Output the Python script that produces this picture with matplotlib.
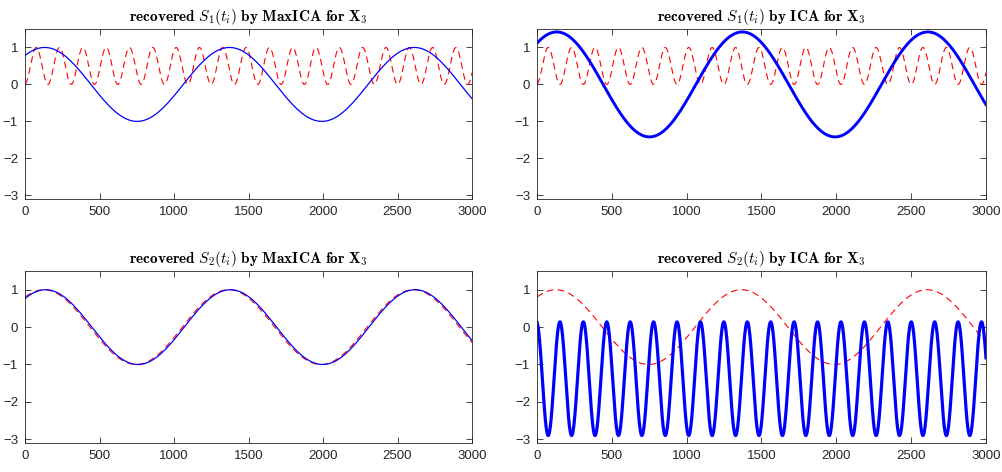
import matplotlib
matplotlib.use('Agg')
import numpy as np
import matplotlib.pyplot as plt

plt.rcParams['mathtext.fontset'] = 'cm'
plt.rcParams['font.family'] = 'Liberation Sans'

# sample index
n_samples = 3000

# slow source S2: cosine
slow_period = 1240
slow_peak = 126
# fast source S1 (0..1 range)
fast_period = 156.5
fast_peak = 75

# amplitudes / offsets / peak shifts of each recovered trace
maxica_s1_amp = 1.0
maxica_s1_peak = 132
ica_s1_amp = 1.42
maxica_s2_amp = 1.0
maxica_s2_peak = 138
ica_s2_offset = -1.38
ica_s2_amp = 1.52

titles = [r'$\mathbf{recovered}\ S_1(t_i)\ \mathbf{by\ MaxICA\ for\ X_3}$',
          r'$\mathbf{recovered}\ S_1(t_i)\ \mathbf{by\ ICA\ for\ X_3}$',
          r'$\mathbf{recovered}\ S_2(t_i)\ \mathbf{by\ MaxICA\ for\ X_3}$',
          r'$\mathbf{recovered}\ S_2(t_i)\ \mathbf{by\ ICA\ for\ X_3}$']

t = np.arange(1, n_samples + 1)
slow = np.cos(2 * np.pi * (t - slow_peak) / slow_period)
fast = 0.5 + 0.5 * np.cos(2 * np.pi * (t - fast_peak) / fast_period)

fig = plt.figure(figsize=(10.02, 4.72), dpi=100)
positions = [[0.0250, 0.5784, 0.4461, 0.3602],
             [0.5359, 0.5784, 0.4481, 0.3602],
             [0.0250, 0.0614, 0.4461, 0.3644],
             [0.5359, 0.0614, 0.4481, 0.3644]]
axes = [fig.add_axes(p) for p in positions]

dash = dict(color='r', linestyle=(0, (6, 4)), linewidth=0.8)

# top: red = true S1, blue = recovered S1
axes[0].plot(t, fast, **dash)
axes[0].plot(t, maxica_s1_amp * np.cos(2 * np.pi * (t - maxica_s1_peak) / slow_period),
             color='b', linewidth=0.9)
axes[1].plot(t, fast, **dash)
axes[1].plot(t, ica_s1_amp * np.cos(2 * np.pi * (t - maxica_s1_peak) / slow_period),
             color='b', linewidth=2.1)

# bottom: red = true S2
axes[2].plot(t, slow, **dash)
axes[2].plot(t, maxica_s2_amp * np.cos(2 * np.pi * (t - maxica_s2_peak) / slow_period),
             color='b', linewidth=0.9)
axes[3].plot(t, slow, **dash)
axes[3].plot(t, ica_s2_offset - ica_s2_amp * np.cos(2 * np.pi * (t - fast_peak) / fast_period),
             color='b', linewidth=2.3)

for ax, title in zip(axes, titles):
    ax.set_xlim(0, 3000)
    ax.set_ylim(-3.1, 1.5)
    ax.set_xticks(np.arange(0, 3001, 500))
    ax.set_yticks([-3, -2, -1, 0, 1])
    ax.tick_params(direction='in', top=True, right=True, length=4, width=0.6,
                   labelsize=9.5, colors='#262626', pad=5)
    for s in ax.spines.values():
        s.set_color('#262626')
        s.set_linewidth(0.6)
    ax.set_title(title, fontsize=11, pad=6)

fig.savefig('out.png', dpi=100)
